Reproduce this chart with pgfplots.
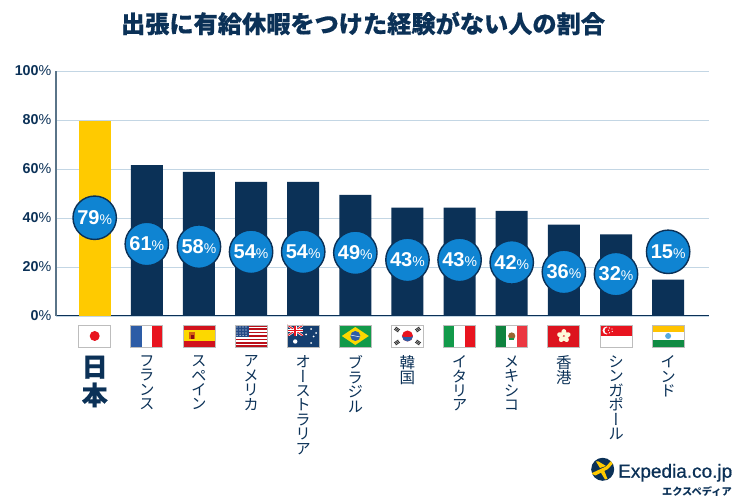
\documentclass[border=0pt]{standalone}
\usepackage{fontspec}
\usepackage{pgfplots}
\pgfplotsset{compat=1.18}
\setmainfont{Liberation Sans}
\newfontfamily\jp{Noto Sans CJK JP}
\newfontfamily\jph[BoldFeatures={FakeBold=0.35}]{Noto Sans CJK JP}
\newfontfamily\jpv[RawFeature=+vert]{Noto Sans CJK JP}
\newfontfamily\logofont[FakeBold=0.7]{Liberation Sans}
\definecolor{navy}{HTML}{0B3157}
\definecolor{sky}{HTML}{0F84D2}
\definecolor{gold}{HTML}{FFCA00}
\definecolor{gridc}{HTML}{C3D6E4}
\definecolor{yax}{HTML}{5A7488}
\definecolor{fr}{HTML}{E8141F}
\definecolor{fb}{HTML}{2D5CA6}
\definecolor{fg}{HTML}{129A4A}
\definecolor{fy}{HTML}{FCD800}
\definecolor{fbd}{HTML}{BDBDBD}
\newcommand{\Flag}[2]{\begin{scope}[shift={({94.7+52.13*#1},336)}]
  #2
  \draw[fbd,line width=0.9pt] (-16,-11) rectangle (16,11);
\end{scope}}
\newcommand{\vfont}{\jpv\fontsize{15.5}{14.4}\selectfont}
\begin{document}
\begin{tikzpicture}
\path[use as bounding box] (0,0) rectangle (750pt,500pt);
\begin{axis}[
  at={(56pt,184pt)}, anchor=south west,
  scale only axis, width=653pt, height=245pt,
  xmin=-0.742, xmax=11.784, ymin=0, ymax=100,
  clip=false,
  axis lines=left,
  x axis line style={-,draw=navy,line width=1pt},
  y axis line style={-,draw=yax,line width=1.2pt},
  ymajorgrids, grid style={gridc,line width=0.9pt},
  ytick={0,20,40,60,80,100},
  yticklabels={\textbf{0}\%,\textbf{20}\%,\textbf{40}\%,\textbf{60}\%,\textbf{80}\%,\textbf{100}\%},
  yticklabel style={font=\fontsize{14.3}{14}\selectfont,text=navy,xshift=1pt},
  ytick style={draw=none},
  xtick={0,...,11},
  xtick style={draw=none},
  xticklabels={
    {{\jph\bfseries\fontsize{26}{26}\selectfont 日}\\[3pt]{\jph\bfseries\fontsize{26}{26}\selectfont 本}},
    {フ\\ラ\\ン\\ス},
    {ス\\ペ\\イ\\ン},
    {ア\\メ\\リ\\カ},
    {オ\\ー\\ス\\ト\\ラ\\リ\\ア},
    {ブ\\ラ\\ジ\\ル},
    {韓\\国},
    {イ\\タ\\リ\\ア},
    {メ\\キ\\シ\\コ},
    {香\\港},
    {シ\\ン\\ガ\\ポ\\ー\\ル},
    {イ\\ン\\ド}},
  xticklabel style={font=\vfont,text=navy,align=center,anchor=north,yshift=-32pt},
  ybar, bar width=32pt,
]
\addplot[ybar,bar shift=0pt,fill=gold,draw=none] coordinates {(0,79.6)};
\addplot[ybar,bar shift=0pt,fill=navy,draw=none] coordinates {
  (1,61.6)(2,58.8)(3,54.7)(4,54.7)(5,49.4)(6,44.2)(7,44.2)(8,42.9)(9,37.3)(10,33.3)(11,14.8)};
\addplot[only marks,mark=*,mark size=21.7pt,
  mark options={fill=sky,draw=navy,line width=1.4pt},
  point meta=explicit symbolic,
  nodes near coords={\textbf{\fontsize{20}{20}\selectfont\pgfplotspointmeta}\fontsize{14}{14}\selectfont\%},
  every node near coord/.style={anchor=center,text=white,inner sep=0pt},
] coordinates {
  (0,40.1)[79] (1,29.4)[61] (2,28.3)[58] (3,26.2)[54] (4,26.2)[54] (5,25.8)[49]
  (6,22.9)[43] (7,22.9)[43] (8,21.9)[42] (9,18)[36] (10,17.1)[32] (11,26.2)[15]};
\end{axis}
\begin{scope}[x=1pt,y=-1pt,yshift=500pt]
\node[text=navy,anchor=center] at (363,23.5) {\jph\bfseries\fontsize{24.2}{24}\selectfont 出張に有給休暇をつけた経験がない人の割合};
% Japan
\Flag{0}{\fill[white] (-16,-11) rectangle (16,11); \fill[fr] (0,0) circle (5);}
% France
\Flag{1}{\fill[fb] (-16,-11) rectangle (-5.3,11); \fill[white] (-5.3,-11) rectangle (5.3,11); \fill[fr] (5.3,-11) rectangle (16,11);}
% Spain
\Flag{2}{\fill[fr!90!black] (-16,-11) rectangle (16,11); \fill[fy] (-16,-5.5) rectangle (16,5.5); \fill[black!20!fr!60!fy] (-9.5,-3.5) rectangle (-3.5,3.5); \fill[fr!60!black] (-8,-1) rectangle (-5,3);}
% USA
\Flag{3}{\fill[white] (-16,-11) rectangle (16,11);
  \foreach \k in {0,2,...,12}{\fill[fr!80!black] (-16,{-11+\k*22/13}) rectangle (16,{-11+(\k+1)*22/13});}
  \fill[fb!80!black] (-16,-11) rectangle (-2,0.8);
  \foreach \a in {-14,-11,-8,-5}{\foreach \b in {-9,-6,-3,-0.6}{\fill[white] (\a,\b) circle (0.6);}}}
% Australia
\Flag{4}{\fill[navy!70!fb] (-16,-11) rectangle (16,11);
  \begin{scope}
  \clip (-16,-11) rectangle (0,0);
  \fill[navy!70!fb] (-16,-11) rectangle (0,0);
  \draw[white,line width=2.2pt] (-16,-11) -- (0,0) (-16,0) -- (0,-11);
  \draw[fr,line width=1pt] (-16,-11) -- (0,0) (-16,0) -- (0,-11);
  \draw[white,line width=3pt] (-8,-11) -- (-8,0) (-16,-5.5) -- (0,-5.5);
  \draw[fr,line width=1.7pt] (-8,-11) -- (-8,0) (-16,-5.5) -- (0,-5.5);
  \end{scope}
  \fill[white] (-8,5.5) circle (2.2);
  \foreach \a/\b in {8/-7,8/7,3/-1.5,13/-3,10.5/0.5}{\fill[white] (\a,\b) circle (1);}}
% Brazil
\Flag{5}{\fill[fg] (-16,-11) rectangle (16,11); \fill[fy] (-13.5,0) -- (0,-9) -- (13.5,0) -- (0,9) -- cycle; \fill[fb] (0,0) circle (5); \draw[white,line width=0.5pt] (-5,-1) -- (5,1);}
% Korea
\Flag{6}{\fill[white] (-16,-11) rectangle (16,11);
  \fill[fr] (0,0) circle (5.5); \fill[fb] (-5.5,0) to[out=-60,in=180] (0,1) to[out=0,in=240] (5.5,0) arc (0:180:5.5) -- cycle;
  \foreach \a/\b/\r in {-10.5/-6.5/-35,10.5/-6.5/35,-10.5/6.5/35,10.5/6.5/-35}{\begin{scope}[shift={(\a,\b)},rotate=\r]\fill[black!80] (-2.5,-1.8) rectangle (2.5,-0.9); \fill[black!80] (-2.5,-0.45) rectangle (2.5,0.45); \fill[black!80] (-2.5,0.9) rectangle (2.5,1.8);\end{scope}}}
% Italy
\Flag{7}{\fill[fg] (-16,-11) rectangle (-5.3,11); \fill[white] (-5.3,-11) rectangle (5.3,11); \fill[fr] (5.3,-11) rectangle (16,11);}
% Mexico
\Flag{8}{\fill[fg!85!black] (-16,-11) rectangle (-5.3,11); \fill[white] (-5.3,-11) rectangle (5.3,11); \fill[fr!85!white] (5.3,-11) rectangle (16,11); \fill[brown!80!black] (0,0) circle (3.6); \fill[fg] (-2.6,2.2) rectangle (2.6,3.6);}
% Hong Kong
\Flag{9}{\fill[fr!95!black] (-16,-11) rectangle (16,11);
  \foreach \r in {0,72,144,216,288}{\fill[white!85!fy,rotate=\r] (0,-3.8) ellipse (2.6 and 3.2);}
  \fill[fr!70!white] (0,0) circle (0.7);}
% Singapore
\Flag{10}{\fill[white] (-16,-11) rectangle (16,11); \fill[fr] (-16,-11) rectangle (16,0);
  \fill[white] (-9.5,-5.5) circle (3.9); \fill[fr] (-8,-5.5) circle (3.4);
  \foreach \a/\b in {-6.5/-8,-4/-7,-3.8/-4.5,-6.5/-3.3,-7.5/-5.7}{\fill[white] (\a,\b) circle (0.6);}}
% India
\Flag{11}{\fill[white] (-16,-11) rectangle (16,11); \fill[gold!90!orange] (-16,-11) rectangle (16,-3.7); \fill[fg!90!black] (-16,3.7) rectangle (16,11); \fill[sky!70!white] (0,0) circle (3);}
% Logo
\fill[navy] (602.7,469.3) circle (11.5);
\begin{scope}
\clip (602.7,469.3) circle (11.5);
\fill[gold] (591,473.5) -- (606,466.5) -- (611,461) -- (613.5,460) -- (613,463.5) -- (608,469) -- (595.5,475.5) -- cycle;
\fill[gold] (600,468) -- (596,461.5) -- (598.5,461.5) -- (606,466) -- cycle;
\fill[gold] (604,470) -- (607.5,479) -- (605,479.5) -- (600.5,472) -- cycle;
\end{scope}
\node[anchor=base west,inner sep=0pt,text=navy] at (618,477.7) {\logofont\fontsize{19}{19}\selectfont Expedia.co.jp};
\node[anchor=base east,inner sep=0pt,text=navy] at (732,496) {\jp\bfseries\fontsize{10.2}{10.2}\selectfont エクスペディア};
\end{scope}
\end{tikzpicture}
\end{document}
